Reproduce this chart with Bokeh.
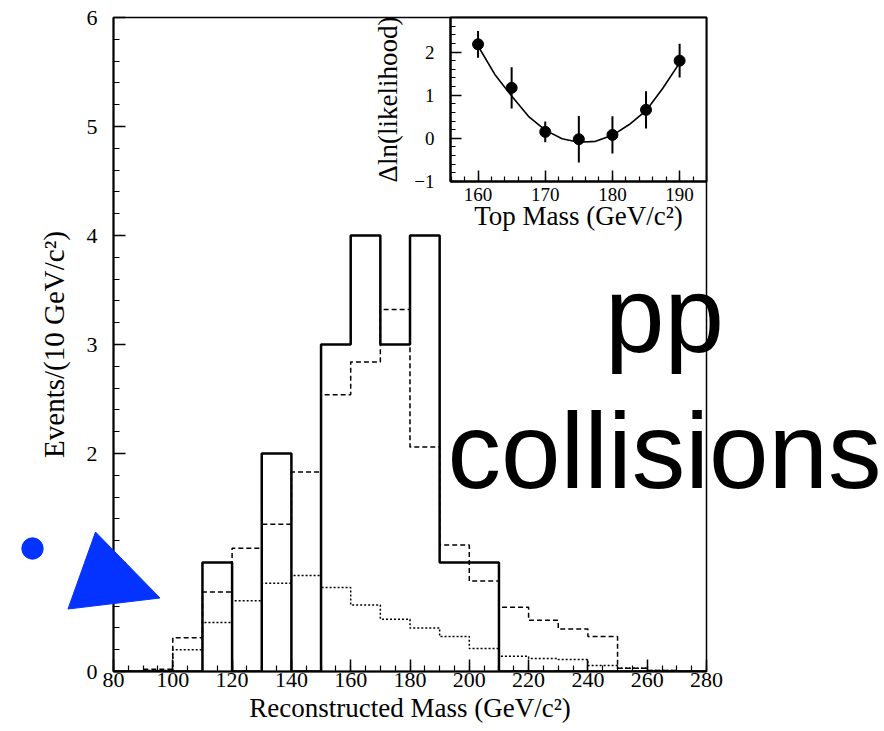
from bokeh.plotting import figure
from bokeh.models import Range1d, FixedTicker, GridBox
from bokeh.core.properties import value
from bokeh.embed import file_html
from bokeh.resources import INLINE

# ---- Reconstructed top-mass distribution, 10 GeV/c^2 bins ----
bin_edges = [80, 90, 100, 110, 120, 130, 140, 150, 160, 170, 180,
             190, 200, 210, 220, 230, 240, 250, 260, 270, 280]
data_counts = [0, 0, 0, 1, 0, 2, 0, 3, 4, 3, 4, 1, 1, 0, 0, 0, 0, 0, 0, 0]
signal_plus_background = [0, 0.02, 0.31, 0.73, 1.13, 1.35, 1.83, 2.54, 2.84, 3.32,
                          2.06, 1.16, 0.83, 0.59, 0.47, 0.39, 0.32, 0.03, 0.01, 0]
background = [0, 0.01, 0.20, 0.45, 0.65, 0.81, 0.88, 0.77, 0.61, 0.48,
              0.40, 0.32, 0.21, 0.14, 0.12, 0.11, 0.055, 0.03, 0.01, 0]

# ---- Likelihood scan versus assumed top mass ----
scan_mass = [160, 165, 170, 175, 180, 185, 190]
scan_dlnl = [2.18, 1.17, 0.15, -0.02, 0.08, 0.66, 1.80]
scan_err = [0.31, 0.48, 0.24, 0.54, 0.43, 0.43, 0.39]
fit_mass = [160, 162.5, 165, 167.5, 170, 172.5, 175, 177.5, 180, 182.5, 185, 187.5, 190]
fit_dlnl = [2.14, 1.48, 0.98, 0.51, 0.19, -0.01, -0.09, -0.07, 0.07, 0.32, 0.64, 1.16, 1.75]

# ---- axis ticks ----
main_x_ticks = list(range(80, 281, 20))
main_x_minor = list(range(80, 281, 5))
main_y_ticks = [0, 1, 2, 3, 4, 5, 6]
main_y_minor = [i / 5 for i in range(0, 31)]
inset_x_ticks = [160, 170, 180, 190]
inset_x_minor = list(range(156, 195, 2))
inset_y_ticks = [-1, 0, 1, 2]
inset_y_minor = [-1 + i / 5 for i in range(0, 20)]

SERIF = "Liberation Serif"
BLUE = "#0433ff"


def style_axis(ax, tick_size, title_size, major_len, minor_len, label_standoff, title_standoff):
    ax.axis_line_color = "black"
    ax.axis_line_width = 2
    ax.major_tick_in = major_len
    ax.major_tick_out = 0
    ax.minor_tick_in = minor_len
    ax.minor_tick_out = 0
    ax.major_tick_line_color = "black"
    ax.minor_tick_line_color = "black"
    ax.major_tick_line_width = 1.5
    ax.minor_tick_line_width = 1.2
    ax.major_label_text_font = SERIF
    ax.major_label_text_font_size = tick_size
    ax.major_label_text_color = "black"
    ax.major_label_standoff = label_standoff
    ax.axis_label_text_font = SERIF
    ax.axis_label_text_font_style = "normal"
    ax.axis_label_text_font_size = title_size
    ax.axis_label_text_color = "black"
    ax.axis_label_standoff = title_standoff


def steps(values):
    # histogram outline: one level per bin, closed at the last edge
    return list(values) + [values[-1]]


# ---- main histogram ----
main = figure(width=884, height=731, x_range=Range1d(80, 280), y_range=Range1d(0, 6),
              toolbar_location=None, output_backend="svg",
              min_border_left=113, min_border_right=178,
              min_border_top=17, min_border_bottom=60)
main.frame_align = False
main.grid.visible = False
main.outline_line_color = "black"
main.outline_line_width = 1.5
main.background_fill_color = "white"
main.border_fill_color = "white"

main.xaxis.ticker = FixedTicker(ticks=main_x_ticks, minor_ticks=main_x_minor)
main.yaxis.ticker = FixedTicker(ticks=main_y_ticks, minor_ticks=main_y_minor)
main.xaxis.axis_label = "Reconstructed Mass (GeV/c²)"
main.yaxis.axis_label = "Events/(10 GeV/c²)"
style_axis(main.xaxis[0], "22px", "27px", 12, 6, 1, 3)
style_axis(main.yaxis[0], "22px", "29px", 12, 6, 16, 14)

main.step(bin_edges, steps(background), mode="after", line_color="black",
          line_width=1.5, line_dash="2 2")
main.step(bin_edges, steps(signal_plus_background), mode="after", line_color="black",
          line_width=1.5, line_dash="5 3")
main.step(bin_edges, steps(data_counts), mode="after", line_color="black",
          line_width=2.5)

# ---- inset: likelihood scan ----
inset = figure(width=514, height=240, x_range=Range1d(155.9, 194.0), y_range=Range1d(-1, 2.8),
               toolbar_location=None, output_backend="svg",
               min_border_left=80, min_border_right=178,
               min_border_top=17, min_border_bottom=59)
inset.frame_align = False
inset.grid.visible = False
inset.outline_line_color = "black"
inset.outline_line_width = 2
inset.background_fill_color = "white"
inset.border_fill_color = None
inset.xaxis.ticker = FixedTicker(ticks=inset_x_ticks, minor_ticks=inset_x_minor)
inset.yaxis.ticker = FixedTicker(ticks=inset_y_ticks, minor_ticks=inset_y_minor)
inset.xaxis.axis_label = "Top Mass (GeV/c²)"
inset.yaxis.axis_label = "Δln(likelihood)"
style_axis(inset.xaxis[0], "19px", "27px", 11, 5, 6, -3)
style_axis(inset.yaxis[0], "19px", "27px", 11, 5, 16, 8)

inset.line(fit_mass, fit_dlnl, line_color="black", line_width=1.6)
inset.segment(x0=scan_mass, y0=[v - e for v, e in zip(scan_dlnl, scan_err)],
              x1=scan_mass, y1=[v + e for v, e in zip(scan_dlnl, scan_err)],
              line_color="black", line_width=2)
inset.scatter(scan_mass, scan_dlnl, size=11, color="black")

# ---- page-level overlay: caption and shapes (pixel space) ----
overlay = figure(width=884, height=731, x_range=Range1d(0, 884), y_range=Range1d(731, 0),
                 toolbar_location=None, output_backend="svg",
                 x_axis_type=None, y_axis_type=None, min_border=0)
overlay.frame_align = False
overlay.grid.visible = False
overlay.outline_line_color = None
overlay.background_fill_color = None
overlay.border_fill_color = None

overlay.circle(x=[32], y=[548], radius=10.7, fill_color=BLUE, line_color=BLUE)
overlay.patch(x=[95, 159.5, 67.5], y=[531.5, 597.5, 608.5], fill_color=BLUE, line_color=BLUE)
overlay.text(x=[664, 664], y=[314, 450], text=["pp", "collisions"],
             text_align="center", text_baseline="alphabetic",
             text_font=value("Liberation Sans"), text_font_size="107px", text_color="black")

page = GridBox(children=[(main, 0, 0, 2, 2), (inset, 0, 1), (overlay, 0, 0, 2, 2)],
               cols=["370px", "514px"], rows=["240px", "491px"])

open("out.html", "w").write(file_html(page, INLINE))
